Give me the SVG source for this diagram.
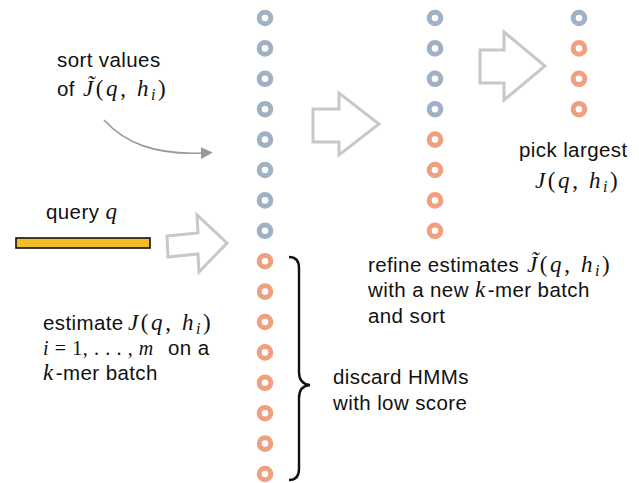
<svg xmlns="http://www.w3.org/2000/svg" width="639" height="483" viewBox="0 0 639 483">
<defs>
<style>
.t{font-family:"Liberation Sans",Arial,sans-serif;font-size:20.5px;letter-spacing:0.4px;fill:#111}
.m{font-family:"Liberation Serif","Times New Roman",serif;font-style:italic;font-size:23px;letter-spacing:2.6px}
.r{font-family:"Liberation Serif","Times New Roman",serif;font-style:normal;font-size:23px;letter-spacing:2.6px}
.s{font-family:"Liberation Serif","Times New Roman",serif;font-style:italic;font-size:16px;letter-spacing:2.6px}
.e{font-family:"Liberation Serif","Times New Roman",serif;font-size:20px;letter-spacing:0.6px}
.b{fill:none;stroke:#A0B1C4;stroke-width:5}
.o{fill:none;stroke:#EFA080;stroke-width:5}
.big{fill:#fff;stroke:#C8C8C8;stroke-width:3;stroke-linejoin:miter}
</style>
<circle id="d" r="5.8"/>
<marker id="ah" viewBox="0 0 10 10" refX="1" refY="5" markerWidth="12" markerHeight="12" markerUnits="userSpaceOnUse" orient="auto"><path d="M0,0 L10,5 L0,10 Z" fill="#999"/></marker>
</defs>
<rect width="639" height="483" fill="#fff"/>

<g id="column1">
<use href="#d" class="b" x="265" y="18"/>
<use href="#d" class="b" x="265" y="48.4"/>
<use href="#d" class="b" x="265" y="78.8"/>
<use href="#d" class="b" x="265" y="109.2"/>
<use href="#d" class="b" x="265" y="139.6"/>
<use href="#d" class="b" x="265" y="170"/>
<use href="#d" class="b" x="265" y="200.4"/>
<use href="#d" class="b" x="265" y="230.8"/>
<use href="#d" class="o" x="265" y="261.2"/>
<use href="#d" class="o" x="265" y="291.6"/>
<use href="#d" class="o" x="265" y="322"/>
<use href="#d" class="o" x="265" y="352.4"/>
<use href="#d" class="o" x="265" y="382.8"/>
<use href="#d" class="o" x="265" y="413.2"/>
<use href="#d" class="o" x="265" y="443.6"/>
<use href="#d" class="o" x="265" y="474"/>
</g>
<g id="column2">
<use href="#d" class="b" x="435" y="18"/>
<use href="#d" class="b" x="435" y="48.4"/>
<use href="#d" class="b" x="435" y="78.8"/>
<use href="#d" class="b" x="435" y="109.2"/>
<use href="#d" class="o" x="435" y="139.6"/>
<use href="#d" class="o" x="435" y="170"/>
<use href="#d" class="o" x="435" y="200.4"/>
<use href="#d" class="o" x="435" y="230.8"/>
</g>
<g id="column3">
<use href="#d" class="b" x="579" y="18"/>
<use href="#d" class="o" x="579" y="48.4"/>
<use href="#d" class="o" x="579" y="78.8"/>
<use href="#d" class="o" x="579" y="109.2"/>
</g>

<g id="query">
<rect x="16" y="238" width="134" height="10" fill="#F4BC28" stroke="#111" stroke-width="1.6"/>
<text class="t" x="46" y="219">query <tspan class="m" font-size="23">q</tspan></text>
</g>

<g id="brace">
<path d="M289,257 Q299,257 299,268 L299,372 Q299,384 310,385 Q299,386 299,398 L299,469 Q299,480 289,480" fill="none" stroke="#111" stroke-width="2.4"/>
</g>

<g id="connectors">
<path d="M104,120 C125,143 155,155 202,153" fill="none" stroke="#999" stroke-width="1.6" marker-end="url(#ah)"/>
<polygon class="big" points="167,236 198,233 197,215 227,243 199,272 198,254 168,257"/>
<polygon class="big" points="313,109 339,109 339,93 379,124 339,155 339,142 313,142"/>
<polygon class="big" points="480,50 504,50 504,32 545,66 504,100 504,83 480,83"/>
</g>

<g id="labels">
<text class="t" x="57" y="67">sort values</text>
<text class="t" x="57" y="96">of <tspan class="m" x="83">J&#x303;</tspan><tspan class="r">(</tspan><tspan class="m">q</tspan><tspan class="r">, </tspan><tspan class="m">h</tspan><tspan class="s" dy="4">i</tspan><tspan class="r" dy="-4">)</tspan></text>

<text class="t" x="43" y="330">estimate<tspan class="m" x="128">J</tspan><tspan class="r">(</tspan><tspan class="m">q</tspan><tspan class="r">, </tspan><tspan class="m">h</tspan><tspan class="s" dy="4">i</tspan><tspan class="r" dy="-4">)</tspan></text>
<text class="t" x="43" y="355"><tspan class="e" font-style="italic">i</tspan><tspan class="e"> = 1, . . . , </tspan><tspan class="e" font-style="italic">m</tspan><tspan x="168">on a</tspan></text>
<text class="t" x="43" y="380"><tspan class="m" letter-spacing="0">k</tspan>-mer batch</text>

<text class="t" x="368" y="272">refine estimates <tspan class="m" x="527">J&#x303;</tspan><tspan class="r">(</tspan><tspan class="m">q</tspan><tspan class="r">, </tspan><tspan class="m">h</tspan><tspan class="s" dy="4">i</tspan><tspan class="r" dy="-4">)</tspan></text>
<text class="t" x="368" y="297">with a new <tspan class="m" letter-spacing="0">k</tspan>-mer batch</text>
<text class="t" x="368" y="323">and sort</text>

<text class="t" x="333" y="384">discard HMMs</text>
<text class="t" x="333" y="410">with low score</text>

<text class="t" x="519" y="157">pick largest</text>
<text class="t" x="535" y="188"><tspan class="m">J</tspan><tspan class="r">(</tspan><tspan class="m">q</tspan><tspan class="r">, </tspan><tspan class="m">h</tspan><tspan class="s" dy="4">i</tspan><tspan class="r" dy="-4">)</tspan></text>
</g>
</svg>
